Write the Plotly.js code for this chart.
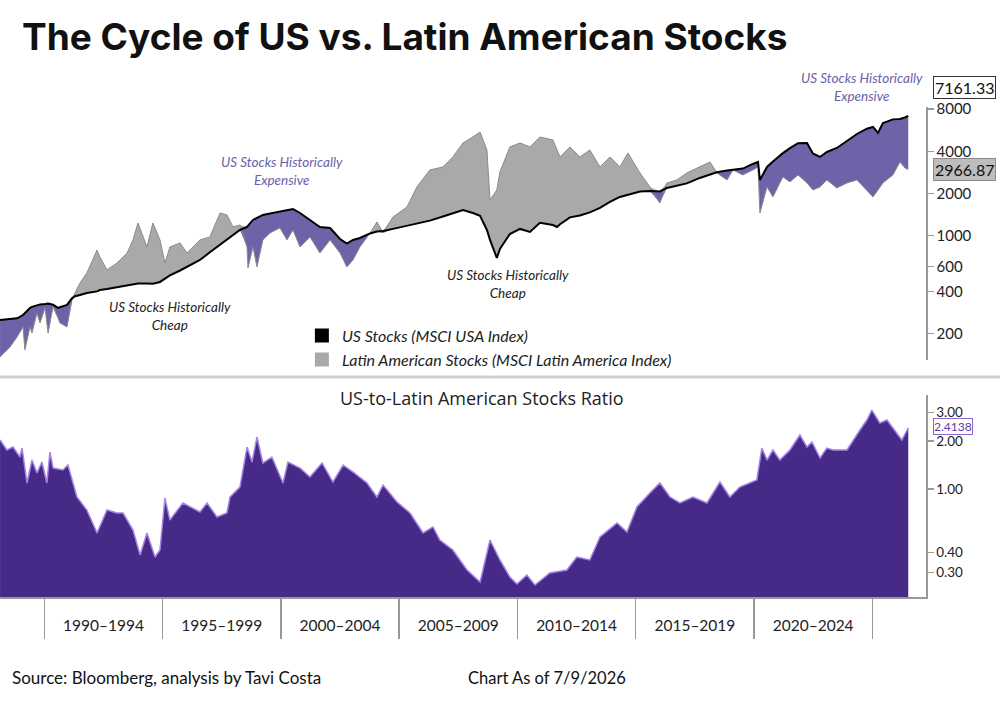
<!DOCTYPE html>
<html>
<head>
<meta charset="utf-8">
<script src="https://cdn.plot.ly/plotly-3.0.1.min.js"></script>
<style>
  html, body { margin: 0; padding: 0; background: #fff; }
  #chart { width: 1000px; height: 703px; }
</style>
</head>
<body>
<div id="chart"></div>
<script>
// Index levels (decimal years)
const years = [
  1988.13, 1988.55, 1988.85, 1989.10, 1989.18, 1989.40, 1989.48, 1989.69, 1989.82, 1990.03,
  1990.16, 1990.37, 1990.58, 1990.66, 1990.96, 1991.17, 1991.30, 1991.51, 1991.80, 1992.23,
  1992.35, 1992.65, 1993.07, 1993.50, 1993.75, 1993.96, 1994.34, 1994.59, 1994.89, 1995.10,
  1995.31, 1995.74, 1996.03, 1996.58, 1997.00, 1997.43, 1997.72, 1997.98, 1998.27, 1998.57,
  1998.61, 1998.82, 1998.99, 1999.24, 1999.54, 1999.96, 2000.26, 2000.51, 2000.81, 2001.23,
  2001.65, 2002.08, 2002.50, 2002.79, 2003.05, 2003.34, 2003.77, 2004.06, 2004.32, 2004.74,
  2005.33, 2005.75, 2006.30, 2006.85, 2007.27, 2007.70, 2008.12, 2008.42, 2008.71, 2008.84,
  2009.13, 2009.26, 2009.68, 2010.11, 2010.53, 2010.95, 2011.50, 2011.67, 2011.80, 2012.22,
  2012.64, 2013.06, 2013.49, 2013.91, 2014.33, 2014.67, 2015.18, 2015.60, 2016.02, 2016.32,
  2016.74, 2017.16, 2017.71, 2018.14, 2018.43, 2018.86, 2019.11, 2019.53, 2019.95, 2020.17,
  2020.25, 2020.55, 2020.80, 2021.22, 2021.52, 2021.86, 2022.24, 2022.49, 2022.79, 2023.08,
  2023.50, 2023.93, 2024.35, 2024.77, 2025.03, 2025.24, 2025.45, 2025.87, 2026.17, 2026.38,
  2026.52
];

const usStocks = [
  250, 254, 257, 271, 280, 305, 310, 320, 323, 325,
  328, 321, 305, 308, 320, 357, 369, 377, 390, 400,
  409, 416, 427, 440, 449, 456, 456, 453, 467, 496,
  520, 564, 598, 671, 761, 858, 932, 1005, 1098, 1154,
  1177, 1295, 1338, 1406, 1441, 1492, 1526, 1551, 1452, 1295,
  1154, 1135, 947, 877, 932, 963, 1037, 1070, 1080, 1118,
  1181, 1220, 1280, 1371, 1452, 1526, 1452, 1387, 1098, 932,
  693, 804, 1028, 1117, 1063, 1236, 1192, 1154, 1206, 1351,
  1392, 1467, 1577, 1741, 1890, 1966, 2069, 2086, 2069, 2191,
  2265, 2363, 2584, 2750, 2837, 2922, 2947, 3016, 3252, 3360,
  2500, 3095, 3382, 3884, 4217, 4579, 4594, 3865, 3649, 3962,
  4231, 4747, 5325, 5810, 5975, 5415, 6383, 6771, 6816, 6986,
  7161.33
];

const latamStocks = [
  136, 160, 189, 223, 153, 223, 202, 280, 238, 305,
  202, 310, 258, 238, 223, 347, 390, 459, 542, 790,
  704, 569, 638, 752, 932, 1232, 830, 1232, 932, 638,
  830, 887, 752, 932, 979, 1452, 1406, 1154, 1192, 830,
  588, 830, 598, 932, 1045, 1135, 932, 1098, 830, 979,
  752, 932, 752, 598, 671, 830, 1045, 1253, 1045, 1360,
  1603, 2228, 2947, 3095, 3649, 4594, 5070, 5503, 4094, 1799,
  2120, 2851, 4302, 4594, 4302, 5070, 4826, 4094, 3649, 4302,
  3649, 4094, 3095, 3649, 3095, 3896, 2805, 2228, 1712, 2379,
  2500, 2805, 3095, 3360, 2805, 2500, 2947, 2714, 2947, 3095,
  1452, 2228, 1890, 2627, 2418, 2714, 2379, 2120, 2228, 2500,
  2191, 2379, 2500, 2120, 1890, 2120, 2379, 2714, 3360, 3044,
  2966.87
];

// US-to-Latin America ratio
const ratioYears = [
  1988.13, 1988.42, 1988.68, 1988.97, 1989.06, 1989.27, 1989.48, 1989.69, 1989.90, 1990.11,
  1990.24, 1990.37, 1990.79, 1991.00, 1991.38, 1991.80, 1992.23, 1992.65, 1993.07, 1993.33,
  1993.75, 1994.05, 1994.34, 1994.68, 1994.89, 1995.10, 1995.31, 1995.86, 1996.58, 1996.88,
  1997.30, 1997.72, 1997.85, 1998.27, 1998.57, 1998.78, 1998.99, 1999.24, 1999.62, 2000.09,
  2000.30, 2000.81, 2001.23, 2001.74, 2002.20, 2002.63, 2003.05, 2003.64, 2004.06, 2004.32,
  2004.91, 2005.46, 2006.01, 2006.43, 2006.72, 2007.27, 2007.87, 2008.42, 2008.84, 2009.26,
  2009.68, 2009.98, 2010.40, 2010.74, 2011.37, 2012.09, 2012.51, 2013.06, 2013.49, 2014.21,
  2014.63, 2015.05, 2015.60, 2016.02, 2016.45, 2016.87, 2017.42, 2018.01, 2018.56, 2018.98,
  2019.40, 2020.12, 2020.33, 2020.55, 2020.80, 2021.09, 2021.52, 2021.94, 2022.24, 2022.45,
  2022.79, 2023.08, 2023.34, 2023.93, 2024.48, 2024.77, 2024.98, 2025.32, 2025.62, 2026.04,
  2026.25, 2026.52
];

const ratioValues = [
  2.025, 1.753, 1.830, 1.585, 1.804, 1.090, 1.518, 1.259, 1.475, 1.090,
  1.703, 1.353, 1.315, 1.413, 0.891, 0.739, 0.531, 0.739, 0.708, 0.708,
  0.554, 0.387, 0.531, 0.376, 0.416, 0.878, 0.640, 0.818, 0.718, 0.818,
  0.668, 0.708, 0.891, 1.029, 1.830, 1.475, 2.113, 1.454, 1.585, 1.090,
  1.475, 1.353, 1.189, 1.454, 1.106, 1.413, 1.277, 1.090, 0.891, 1.059,
  0.829, 0.708, 0.531, 0.579, 0.480, 0.416, 0.312, 0.262, 0.480, 0.360,
  0.282, 0.255, 0.290, 0.251, 0.299, 0.312, 0.376, 0.360, 0.501, 0.613,
  0.538, 0.772, 0.944, 1.090, 0.891, 0.818, 0.891, 0.818, 1.106, 0.891,
  1.029, 1.138, 1.804, 1.518, 1.753, 1.518, 1.753, 2.175, 1.830, 1.967,
  1.562, 1.804, 1.753, 1.753, 2.337, 2.700, 3.116, 2.585, 2.700, 2.239,
  2.025, 2.4138
];

// Axis labels
const periodTicks = [1992.5, 1997.5, 2002.5, 2007.5, 2012.5, 2017.5, 2022.5];
const periodLabels = ['1990–1994', '1995–1999', '2000–2004', '2005–2009', '2010–2014', '2015–2019', '2020–2024'];
const periodBounds = [1990, 1995, 2000, 2005, 2010, 2015, 2020, 2025];
const priceTicks = [200, 400, 600, 1000, 2000, 4000, 8000];
const ratioTicks = [0.3, 0.4, 1, 2, 3];

const FONT = 'Lato, "Noto Sans", sans-serif';
const WIDE_FONT = '"Open Sans", "Noto Sans", sans-serif';
const GRAY_FILL = '#a9a9a9';
const PURPLE_FILL = '#6d63a9';
const RATIO_FILL = '#472a88';

// Split the gap between the two indices into "LatAm above" and "US above" bands
const upperEnv = years.map((_, i) => Math.max(usStocks[i], latamStocks[i]));
const lowerEnv = years.map((_, i) => Math.min(usStocks[i], latamStocks[i]));

const noLine = { width: 0 };
const traces = [
  { x: years, y: usStocks, mode: 'lines', line: noLine, showlegend: false, hoverinfo: 'skip', xaxis: 'x', yaxis: 'y' },
  { x: years, y: upperEnv, mode: 'lines', line: noLine, fill: 'tonexty', fillcolor: GRAY_FILL, showlegend: false, hoverinfo: 'skip', xaxis: 'x', yaxis: 'y' },
  { x: years, y: lowerEnv, mode: 'lines', line: noLine, showlegend: false, hoverinfo: 'skip', xaxis: 'x', yaxis: 'y' },
  { x: years, y: usStocks, mode: 'lines', line: noLine, fill: 'tonexty', fillcolor: PURPLE_FILL, showlegend: false, hoverinfo: 'skip', xaxis: 'x', yaxis: 'y' },
  { x: years, y: latamStocks, mode: 'lines', line: { color: '#8a8a8a', width: 1 }, showlegend: false, xaxis: 'x', yaxis: 'y' },
  { x: years, y: usStocks, mode: 'lines', line: { color: '#000', width: 2 }, showlegend: false, xaxis: 'x', yaxis: 'y' },
  { x: ratioYears, y: ratioValues, mode: 'lines', line: { color: '#a584e8', width: 1.5 }, fill: 'tozeroy', fillcolor: RATIO_FILL, showlegend: false, xaxis: 'x2', yaxis: 'y2' },
  // legend keys
  { x: [null], y: [null], mode: 'markers', marker: { symbol: 'square', size: 14, color: '#000' }, name: 'US Stocks (MSCI USA Index)', xaxis: 'x', yaxis: 'y' },
  { x: [null], y: [null], mode: 'markers', marker: { symbol: 'square', size: 14, color: GRAY_FILL }, name: 'Latin American Stocks (MSCI Latin America Index)', xaxis: 'x', yaxis: 'y' }
];

const xRange = [1988.128, 2027.27];
const topRange = [2.112, 3.919];
const botRange = [-0.675, 0.5875];

const lastUS = usStocks[usStocks.length - 1];
const lastLA = latamStocks[latamStocks.length - 1];
const lastRatio = ratioValues[ratioValues.length - 1];

const noteFont = (color) => ({ family: FONT, size: 13.5, style: 'italic', color: color });

const layout = {
  width: 1000,
  height: 703,
  paper_bgcolor: '#fff',
  plot_bgcolor: '#fff',
  margin: { l: 0, r: 74, t: 107, b: 106 },
  font: { family: FONT, color: '#222', size: 16 },
  title: {
    text: 'The Cycle of US vs. Latin American Stocks',
    x: 0.022, xanchor: 'left', xref: 'container',
    y: 0.947, yanchor: 'middle', yref: 'container',
    font: { family: 'Inter, "Liberation Sans", sans-serif', size: 37, weight: 700, color: '#111' }
  },
  showlegend: true,
  legend: {
    x: 0.326, xanchor: 'left', y: 0.568, yanchor: 'top',
    traceorder: 'normal',
    bgcolor: 'rgba(0,0,0,0)',
    font: { family: FONT, size: 16, style: 'italic', color: '#222' },
    itemwidth: 30, tracegroupgap: 0
  },
  xaxis: {
    domain: [0, 1], anchor: 'y', range: xRange, visible: false, fixedrange: true
  },
  yaxis: {
    domain: [0.4837, 1], anchor: 'x', type: 'log', range: topRange, side: 'right',
    showgrid: false, zeroline: false, showline: true, linecolor: '#999', linewidth: 1.5,
    ticks: 'outside', ticklen: 6, tickcolor: '#999', tickwidth: 1.5,
    tickmode: 'array', tickvals: priceTicks, ticktext: priceTicks.map(String),
    tickfont: { size: 15, color: '#222' }
  },
  xaxis2: {
    domain: [0, 1], anchor: 'y2', range: xRange, showgrid: false, zeroline: false,
    showline: true, linecolor: '#999', linewidth: 1.5,
    tickmode: 'array', tickvals: periodTicks, ticktext: periodLabels,
    ticks: 'outside', ticklen: 14, tickcolor: 'rgba(0,0,0,0)',
    tickfont: { size: 15.5, color: '#222' },
    minor: { tickmode: 'array', tickvals: periodBounds, ticks: 'outside', ticklen: 40, tickcolor: '#999', tickwidth: 1.5, showgrid: false }
  },
  yaxis2: {
    domain: [0, 0.4122], anchor: 'x2', type: 'log', range: botRange, side: 'right',
    showgrid: false, zeroline: false, showline: true, linecolor: '#999', linewidth: 1.5,
    ticks: 'outside', ticklen: 6, tickcolor: '#999', tickwidth: 1.5,
    tickmode: 'array', tickvals: ratioTicks, ticktext: ratioTicks.map(v => v.toFixed(2)),
    tickfont: { size: 13.5, color: '#222' }
  },
  shapes: [
    { type: 'line', xref: 'paper', yref: 'paper', x0: 0, x1: 1.08, y0: 0.449, y1: 0.449, line: { color: '#cfcfcf', width: 3 } }
  ],
  annotations: [
    { text: 'US-to-Latin American Stocks Ratio', xref: 'paper', yref: 'paper', x: 0.5205, xanchor: 'center', y: 0.406, yanchor: 'middle', showarrow: false, font: { family: WIDE_FONT, size: 18, color: '#222' } },
    { text: 'US Stocks Historically<br>Expensive', xref: 'paper', yref: 'paper', x: 0.3045, xanchor: 'center', y: 0.870, yanchor: 'middle', showarrow: false, font: noteFont('#6a62a6') },
    { text: 'US Stocks Historically<br>Expensive', xref: 'paper', yref: 'paper', x: 0.9309, xanchor: 'center', y: 1.041, yanchor: 'middle', showarrow: false, font: noteFont('#6a62a6') },
    { text: 'US Stocks Historically<br>Cheap', xref: 'paper', yref: 'paper', x: 0.1836, xanchor: 'center', y: 0.574, yanchor: 'middle', showarrow: false, font: noteFont('#222') },
    { text: 'US Stocks Historically<br>Cheap', xref: 'paper', yref: 'paper', x: 0.5486, xanchor: 'center', y: 0.639, yanchor: 'middle', showarrow: false, font: noteFont('#222') },
    // latest-value tags on the right axes
    { text: lastUS.toFixed(2), xref: 'paper', yref: 'paper', x: 1.0075, xanchor: 'left', y: 1.0388, yanchor: 'middle', showarrow: false,
      font: { size: 16, color: '#111' }, bgcolor: '#fff', bordercolor: '#333', borderwidth: 1, borderpad: 1 },
    { text: lastLA.toFixed(2), xref: 'paper', yref: 'y', x: 1.0075, xanchor: 'left', y: Math.log10(lastLA), yanchor: 'middle', showarrow: false,
      font: { size: 16, color: '#111' }, bgcolor: '#bdbdbd', bordercolor: '#8a8a8a', borderwidth: 1, borderpad: 1 },
    { text: lastRatio.toFixed(4), xref: 'paper', yref: 'y2', x: 1.0075, xanchor: 'left', y: Math.log10(lastRatio), yanchor: 'middle', yshift: 1, showarrow: false,
      font: { size: 12, color: '#5a3aa6' }, bgcolor: '#fff', bordercolor: '#8a66d6', borderwidth: 1, borderpad: 0 },
    { text: 'Source: Bloomberg, analysis by Tavi Costa', xref: 'paper', yref: 'paper', x: 0.0108, xanchor: 'left', y: -0.165, yanchor: 'middle', showarrow: false, font: { size: 17, color: '#111' } },
    { text: 'Chart As of 7/9/2026', xref: 'paper', yref: 'paper', x: 0.503, xanchor: 'left', y: -0.165, yanchor: 'middle', showarrow: false, font: { size: 16.5, color: '#111' } }
  ]
};

Plotly.newPlot('chart', traces, layout, { displayModeBar: false, staticPlot: true });
</script>
</body>
</html>
